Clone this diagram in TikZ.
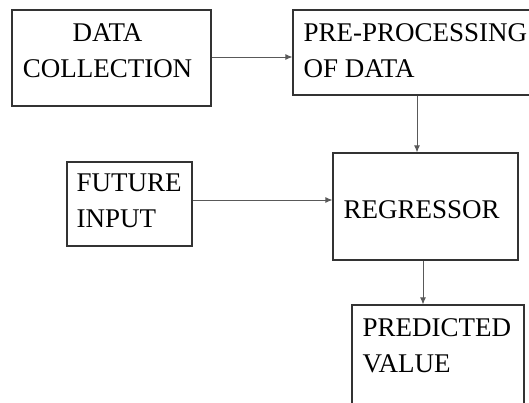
\documentclass[tikz,border=0pt]{standalone}
\usepackage{fontspec}
\setmainfont{Liberation Serif}
\usepackage{tikz}
\usetikzlibrary{arrows.meta}
\newcommand{\flowfont}{\fontsize{27}{36}\selectfont}
\definecolor{boxgray}{gray}{0.2}
\definecolor{arrowgray}{gray}{0.35}

\begin{document}
\begin{tikzpicture}[x=1pt,y=-1pt]
	\useasboundingbox (0,0) rectangle (529,403);
	\clip (0,0) rectangle (529,403);
	\begin{scope}[shape=rectangle,inner sep=0pt]
	\tikzstyle{every node}=[draw=boxgray,line width=1.2pt]
	\tikzstyle{txt}=[draw=none,font=\flowfont,align=left,anchor=north west]
	\node[minimum width=199,minimum height=96] (collect) at (111.5,58) {};
	\node[minimum width=270,minimum height=85] (prep) at (428,52.5) {};
	\node[minimum width=125,minimum height=84] (future) at (129.5,204) {};
	\node[minimum width=185,minimum height=107] (regr) at (425.5,206.5) {};
	\node[minimum width=172,minimum height=120] (pred) at (438,365) {};
	\node[txt,align=center,anchor=north] (collecttxt) at (107.5,23) {DATA\\COLLECTION};
	\node[txt] (preptxt) at (303,23) {PRE-PROCESSING\\OF DATA};
	\node[txt] (futuretxt) at (76,173) {FUTURE\\INPUT};
	\node[txt] (regrtxt) at (343,200) {REGRESSOR};
	\node[txt] (predtxt) at (362,318) {PREDICTED\\VALUE};
	\end{scope}
	\begin{scope}[draw=arrowgray,line width=0.9pt,-{Latex[length=7pt,width=6pt]}]
	\coordinate (down1) at (417,0);
	\coordinate (side1) at (0,200);
	\draw (collect.east |- 0,57) -- (prep.west |- 0,57);
	\draw (prep.south -| down1) -- (regr.north -| down1);
	\draw (future.east |- side1) -- (regr.west |- side1);
	\draw (regr.south -| 423,0) -- (pred.north -| 423,0);
	\end{scope}
\end{tikzpicture}
\end{document}
